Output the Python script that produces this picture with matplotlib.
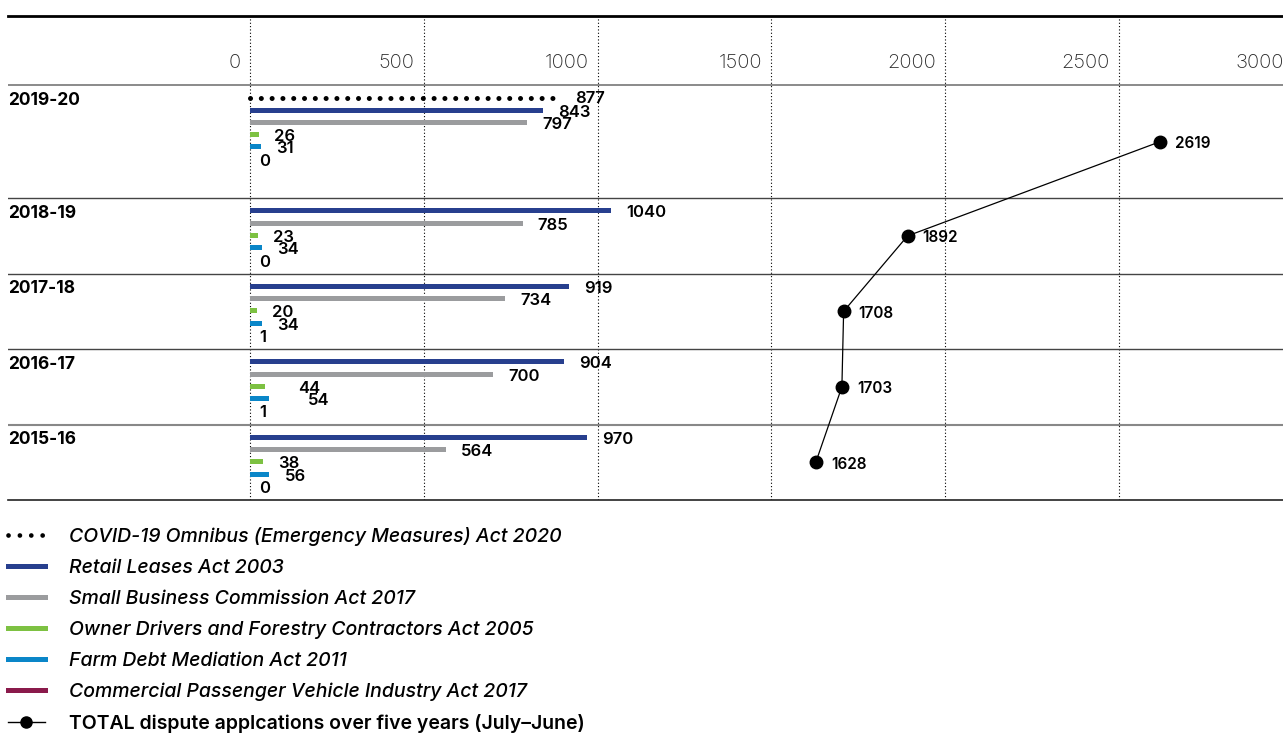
import matplotlib
matplotlib.use("Agg")
import matplotlib.pyplot as plt
from matplotlib.lines import Line2D
from matplotlib import transforms

plt.rcParams['font.family'] = ['Inter', 'DejaVu Sans']

# data
years = ['2019-20', '2018-19', '2017-18', '2016-17', '2015-16']
covid = [877, None, None, None, None]
retail = [843, 1040, 919, 904, 970]
small_business = [797, 785, 734, 700, 564]
owner_drivers = [26, 23, 20, 44, 38]
farm_debt = [31, 34, 34, 54, 56]
commercial = [0, 0, 1, 1, 0]
totals = [2619, 1892, 1708, 1703, 1628]
x_ticks = [0, 500, 1000, 1500, 2000, 2500, 3000]

act_names = ['COVID-19 Omnibus (Emergency Measures) Act 2020',
             'Retail Leases Act 2003',
             'Small Business Commission Act 2017',
             'Owner Drivers and Forestry Contractors Act 2005',
             'Farm Debt Mediation Act 2011',
             'Commercial Passenger Vehicle Industry Act 2017']
total_name = 'TOTAL dispute applcations over five years (July\u2013June)'

c_retail = '#273f8e'
c_small = '#9b9c9e'
c_owner = '#7dc142'
c_farm = '#0a86c8'
c_comm = '#8a1a4b'
bar_series = [(retail, c_retail), (small_business, c_small), (owner_drivers, c_owner),
              (farm_debt, c_farm), (commercial, c_comm)]

# layout (y in pixels from the top rule)
header = 69
group_h = [113, 75.4, 75.4, 75.4, 75.4]
row0 = 12.8
pitch = 12.25
bar_h = 5

fig = plt.figure(figsize=(12.83, 7.33), dpi=100)
H = 733.0
W = 1283.0
ax = fig.add_axes([8 / W, 1 - 500 / H, 1275 / W, 484 / H])
ax.set_xlim(-696, 2972)
ax.set_ylim(header + sum(group_h), 0)
ax.axis('off')

tops = []
t = header
for h in group_h:
    tops.append(t)
    t += h

# vertical dotted gridlines
for xt in x_ticks:
    ax.axvline(xt, color='black', lw=0.8, ls=(0, (1, 2)), zorder=1)

# tick labels in the header
tick_tr = transforms.offset_copy(ax.transData, fig, x=-9, y=0, units='dots')
for xt in x_ticks:
    ax.text(xt, header * 0.68, str(xt), ha='right', va='center', fontsize=14.5,
            fontweight='light', color='#2a2a2a', transform=tick_tr)

# horizontal rules
ax.axhline(0, color='black', lw=2.0, clip_on=False, zorder=3)
ax.axhline(header, color='#777777', lw=1.2, zorder=3)
for i, tp in enumerate(tops[1:]):
    ax.axhline(tp, color='#888888' if i == 3 else '#444444', lw=1.5 if i == 3 else 1.0, zorder=3)
ax.axhline(header + sum(group_h), color='#222222', lw=1.2, clip_on=False, zorder=3)

year_tr = transforms.blended_transform_factory(ax.transAxes, ax.transData)
lab_nudge = {(3, 2): 18, (3, 3): 24}

for g, year in enumerate(years):
    top = tops[g]
    ax.text(0, top + 15, year, ha='left', va='center', fontsize=12.5,
            fontweight='bold', transform=year_tr)
    j = 0
    if covid[g] is not None:
        y = top + row0
        ax.plot([0, covid[g]], [y, y], color='black', lw=3.6, ls=(0, (0.01, 2.15)),
                dash_capstyle='round', zorder=4)
        ax.annotate(str(covid[g]), xy=(covid[g], y), xytext=(20, -1),
                    textcoords='offset pixels', va='center', fontsize=12,
                    fontweight='semibold')
        j = 1
    for k, (vals, col) in enumerate(bar_series):
        y = top + row0 + (j + k) * pitch
        v = vals[g]
        ax.barh(y, v, height=bar_h, left=0, color=col, zorder=4)
        dx = 15 if v > 1 else 9
        dx += lab_nudge.get((g, k), 0)
        ax.annotate(str(v), xy=(v, y), xytext=(dx, -2), textcoords='offset pixels',
                    va='center', fontsize=12, fontweight='semibold')

# total line through group centres
centres = [tp + h / 2 for tp, h in zip(tops, group_h)]
ax.plot(totals, centres, color='black', lw=0.9, marker='o', ms=9, zorder=5)
for v, y in zip(totals, centres):
    ax.annotate(str(v), xy=(v, y), xytext=(15, -2), textcoords='offset pixels',
                va='center', fontsize=11, fontweight='semibold')

handles = [Line2D([], [], color='black', lw=3.4, ls=(0, (0.01, 2.4)), dash_capstyle='round'),
           Line2D([], [], color=c_retail, lw=3.6),
           Line2D([], [], color=c_small, lw=3.6),
           Line2D([], [], color=c_owner, lw=3.6),
           Line2D([], [], color=c_farm, lw=3.6),
           Line2D([], [], color=c_comm, lw=3.6),
           Line2D([], [], color='black', lw=1, marker='o', ms=8)]
leg = fig.legend(handles, act_names + [total_name], loc='upper left',
                 bbox_to_anchor=(8 / W, 1 - 527 / H), frameon=False, fontsize=14,
                 handlelength=1.9, handletextpad=1.24, labelspacing=0.66,
                 borderpad=0, borderaxespad=0)
for i, txt in enumerate(leg.get_texts()):
    if i < 6:
        txt.set_fontstyle('italic')
        txt.set_fontweight('medium')
    else:
        txt.set_fontweight('semibold')

fig.savefig('out.png', dpi=100)
